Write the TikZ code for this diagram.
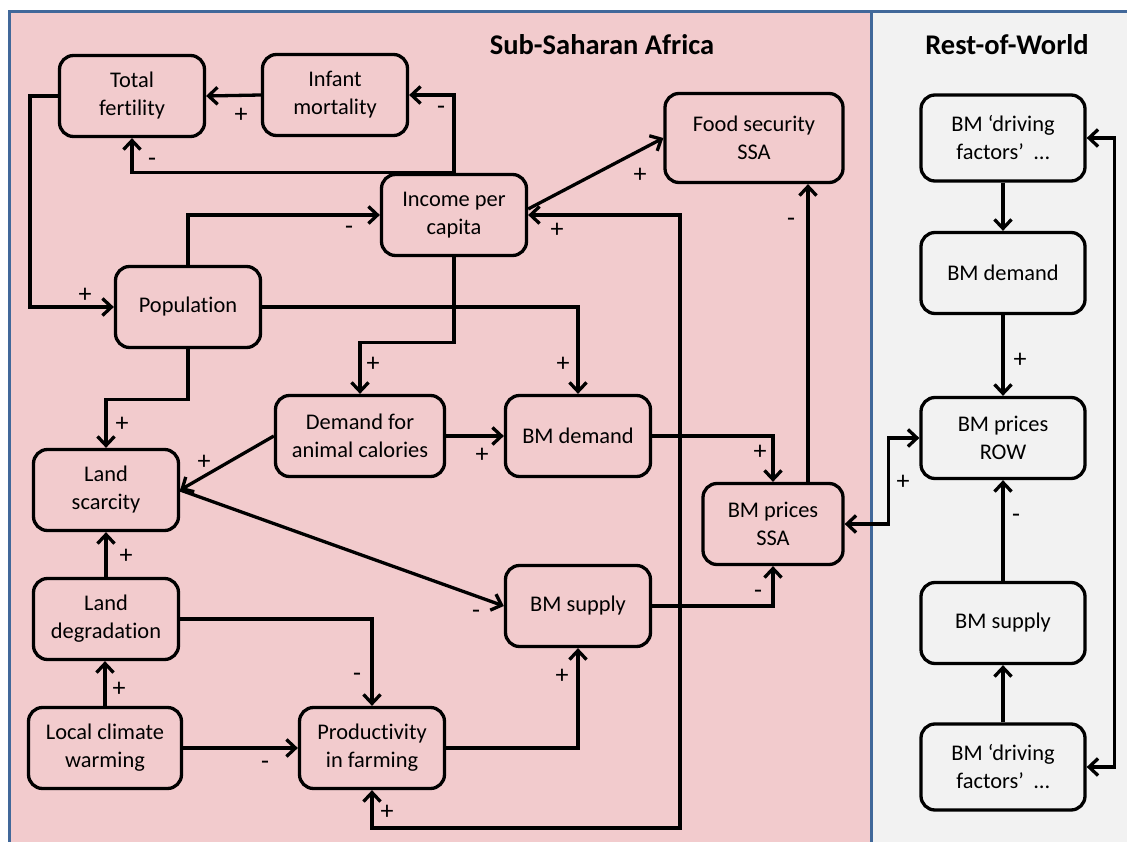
\documentclass[tikz,border=0pt]{standalone}
\usepackage{fontspec}
\setmainfont{Carlito}[Ligatures=NoCommon]
\usetikzlibrary{arrows.meta,calc}
\definecolor{ssafill}{HTML}{F2CBCD}
\definecolor{rowfill}{HTML}{F2F2F2}
\definecolor{panelblue}{HTML}{41689A}
\begin{document}
\begin{tikzpicture}[x=1pt,y=-1pt,
  box/.style={draw=black, line width=3.3pt, rounded corners=14pt, fill=#1, align=center,
    font=\fontsize{22.4}{28}\selectfont, inner sep=0pt, minimum width=145pt, minimum height=81pt},
  box/.default=ssafill,
  arr/.style={line width=3.3pt, -{Straight Barb[length=9pt,width=17pt]}},
  darr/.style={line width=3.3pt, {Straight Barb[length=9pt,width=17pt]}-{Straight Barb[length=9pt,width=17pt]}},
  sign/.style={font=\fontsize{26}{28}\selectfont, inner sep=0pt},
  title/.style={font=\fontsize{28.5}{32}\selectfont\bfseries, inner sep=0pt}]
\useasboundingbox (0,0) rectangle (1127,842);
\fill[white] (0,0) rectangle (1127,842);
\clip (0,0) rectangle (1127,842);
% panels
\path[fill=ssafill, draw=panelblue, line width=3pt] (9,12) rectangle (871,860);
\path[fill=rowfill, draw=panelblue, line width=3pt] (871,12) rectangle (1140,860);
\node[title] (tssa) at (602,45) {Sub-Saharan Africa};
\node[title] (trow) at (1007,45) {Rest-of-World};
% SSA nodes
\node[box] (tf) at (132,96) {Total\\fertility};
\node[box] (inf) at (335,95) {Infant\\mortality};
\node[box] (inc) at (454,215) {Income per\\capita};
\node[box, minimum width=178pt, minimum height=89pt] (food) at (754,138) {Food security\\SSA};
\node[box] (pop) at (188,307) {Population};
\node[box, minimum width=169pt] (dac) at (360,436) {Demand for\\animal calories};
\node[box] (bmd) at (578,436) {BM demand};
\node[box] (ls) at (106,490) {Land\\scarcity};
\node[box, minimum width=140pt] (bps) at (773,524) {BM prices\\SSA};
\node[box] (bms) at (578,606) {BM supply};
\node[box] (ld) at (106,619) {Land\\degradation};
\node[box, minimum width=153pt] (lcw) at (105,748) {Local climate\\warming};
\node[box] (prod) at (372,748) {Productivity\\in farming};
% ROW nodes
\node[box=rowfill, minimum width=164pt, minimum height=86pt] (rdf1) at (1003,138) {BM ‘driving\\factors’~ …};
\node[box=rowfill, minimum width=164pt] (rbd) at (1003,273) {BM demand};
\node[box=rowfill, minimum width=164pt] (rbp) at (1003,438) {BM prices\\ROW};
\node[box=rowfill, minimum width=164pt] (rbs) at (1003,623) {BM supply};
\node[box=rowfill, minimum width=164pt, minimum height=86pt] (rdf2) at (1003,767) {BM ‘driving\\factors’~ …};
% helper coordinates
\coordinate (c1) at (680,828);
% connectors SSA
\draw[arr] (inf.west) -- (tf.east);
\draw[arr] (inc.north) -- (inc.north |- inf.east) -- (inf.east);
\draw[arr] (inc.north) -- (tf.south |- inc.north) -- (tf.south);
\draw[arr] (tf.west) -- ++(-28,0) |- (pop.west);
\draw[arr] (pop.north) |- (inc.west);
\draw[arr] ([yshift=6pt]inc.east) -- (food.west);
\draw[darr] (inc.east) -| (c1) -| (prod.south);
\draw[arr] (inc.south) -- ++(0,85) -| (dac.north);
\draw[arr] (pop.east) -| (bmd.north);
\draw[arr] (pop.south) -- ++(0,50) -| (ls.north);
\draw[arr] (dac.west) -- (ls.east);
\draw[arr] (dac.east) -- (bmd.west);
\draw[arr] (bmd.east) -| (bps.north);
\draw[arr] (ls.east) -- (bms.west);
\draw[arr] (bms.east) -| (bps.south);
\draw[arr] ([xshift=35pt]bps.north) -- ([xshift=35pt]bps.north |- food.south);
\draw[arr] (ld.north) -- (ls.south);
\draw[arr] (lcw.north) -- (lcw.north |- ld.south);
\draw[arr] (ld.east) -| (prod.north);
\draw[arr] (lcw.east) -- (prod.west);
\draw[arr] (prod.east) -| (bms.south);
% between panels
\draw[darr] (bps.east) -- ++(44,0) |- (rbp.west);
% ROW connectors
\draw[arr] (rdf1.south) -- (rbd.north);
\draw[arr] (rbd.south) -- (rbp.north);
\draw[arr] (rbs.north) -- (rbp.south);
\draw[arr] (rdf2.north) -- (rbs.south);
\draw[darr] (rdf1.east) -- ++(28,0) |- (rdf2.east);
% signs
\node[sign] (s1) at (241,115) {+};
\node[sign] (s2) at (441,110) {-};
\node[sign] (s3) at (152,162) {-};
\node[sign] (s4) at (85,295) {+};
\node[sign] (s5) at (349,230) {-};
\node[sign] (s6) at (640,175) {+};
\node[sign] (s7) at (557,230) {+};
\node[sign] (s8) at (387,812) {+};
\node[sign] (s9) at (373,364) {+};
\node[sign] (s10) at (563,364) {+};
\node[sign] (s11) at (122,424) {+};
\node[sign] (s12) at (204,462) {+};
\node[sign] (s13) at (482,455) {+};
\node[sign] (s14) at (760,452) {+};
\node[sign] (s15) at (476,614) {-};
\node[sign] (s16) at (758,594) {-};
\node[sign] (s17) at (791,222) {-};
\node[sign] (s18) at (126,556) {+};
\node[sign] (s19) at (119,689) {+};
\node[sign] (s20) at (357,677) {-};
\node[sign] (s21) at (265,765) {-};
\node[sign] (s22) at (562,676) {+};
\node[sign] (s23) at (903,482) {+};
\node[sign] (s24) at (1020,360) {+};
\node[sign] (s25) at (1016,518) {-};
\end{tikzpicture}
\end{document}
